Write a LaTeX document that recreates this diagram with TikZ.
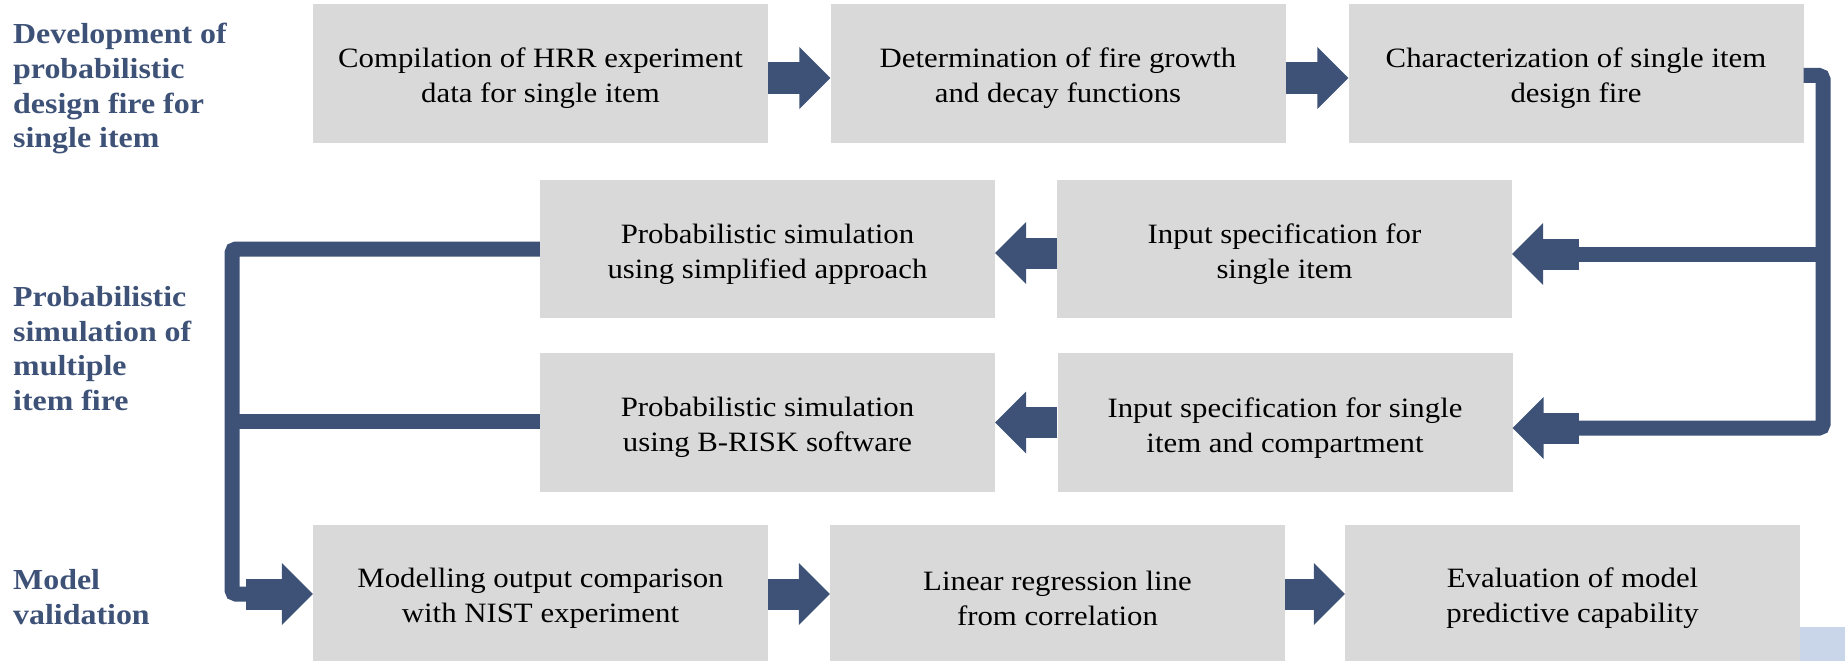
\documentclass[tikz,border=0pt]{standalone}
\usepackage{fontspec}
\setmainfont{Liberation Serif}[FakeStretch=1.1]
\usetikzlibrary{arrows.meta}
\definecolor{navy}{HTML}{3E5278}
\definecolor{boxgray}{HTML}{D9D9D9}
\definecolor{paleblue}{HTML}{C9D5E8}
% extra room above the first line of a box text
\newcommand\boxstrut{\rule{0pt}{30pt}}

\begin{document}
\begin{tikzpicture}[x=1pt,y=-1pt,
  stage/.style={fill=boxgray, minimum width=455pt, minimum height=139pt,
    inner sep=0pt, align=center, text=black,
    font=\fontsize{28}{35}\selectfont},
  heading/.style={anchor=north west, inner sep=0pt, align=left, text=navy,
    font=\fontsize{29}{34.7}\selectfont\bfseries},
  flow/.style={draw=navy, line width=31pt,
    -{Triangle[length=31pt,width=62pt,line width=0pt]},
    postaction={draw=navy, line width=31pt, -, shorten >=20pt}},
  link/.style={draw=navy, line width=15pt, rounded corners=4pt}
]
\useasboundingbox (0,0) rectangle (1845,661);
\fill[white] (0,0) rectangle (1845,661);

% stage headings
\node[heading] (h1) at (13,23) {Development of\\probabilistic\\design fire for\\single item};
\node[heading] (h2) at (13,286) {Probabilistic\\simulation of\\multiple\\item fire};
\node[heading] (h3) at (13,569) {Model\\validation};

% process boxes
\node[stage] (A1) at (540.5,73.5) {\boxstrut Compilation of HRR experiment\\data for single item};
\node[stage] (A2) at (1058,73.5) {\boxstrut Determination of fire growth\\and decay functions};
\node[stage] (A3) at (1576,73.5) {\boxstrut Characterization of single item\\design fire};
\node[stage, minimum height=138pt] (B1) at (767.5,249) {\boxstrut Probabilistic simulation\\using simplified approach};
\node[stage, minimum height=138pt] (B2) at (1284.5,249) {\boxstrut Input specification for\\single item};
\node[stage] (C1) at (767.5,422.5) {\boxstrut Probabilistic simulation\\using B-RISK software};
\node[stage] (C2) at (1285,422.5) {\boxstrut Input specification for single\\item and compartment};
\node[stage, minimum height=136pt] (D1) at (540.5,593) {\boxstrut Modelling output comparison\\with NIST experiment};
\node[stage, minimum height=136pt] (D2) at (1057.5,593) {\boxstrut Linear regression line\\from correlation};
\node[stage, minimum height=136pt] (D3) at (1572.5,593) {\boxstrut Evaluation of model\\predictive capability};

\fill[paleblue] (1800,627) rectangle (1845,661);

% junction points of the connector bars
\coordinate (rx) at (1823,0);
\coordinate (lx) at (232,0);
\coordinate (r2) at (1579,254);
\coordinate (r3) at (1579,428);
\coordinate (l4) at (246,594);
\coordinate (a3) at ([yshift=-2pt]A3.east);
\coordinate (c1) at ([yshift=1.5pt]C1.west);

% connector bars
\draw[link] (a3) -| (r3 -| rx) -- (r3);
\draw[link] (r2 -| rx) -- (r2);
\draw[link] (B1.west) -| (l4 -| lx) -- (l4);
\draw[link] (c1) -- (c1 -| lx);

% block arrows
\draw[flow] ([yshift=-4.5pt]A1.east) -- ([yshift=-4.5pt]A2.west);
\draw[flow] ([yshift=-4.5pt]A2.east) -- ([yshift=-4.5pt]A3.west);
\draw[flow] (r2) -- (r2 -| B2.east);
\draw[flow] ([yshift=-4pt]B2.west) -- ([yshift=-4pt]B1.east);
\draw[flow] (r3) -- (r3 -| C2.east);
\draw[flow] (C2.west) -- (C1.east);
\draw[flow] (l4) -- (l4 -| D1.west);
\draw[flow] ([yshift=-1pt]D1.east) -- ([yshift=-1pt]D2.west);
\draw[flow] ([yshift=-1pt]D2.east) -- ([yshift=-1pt]D3.west);
\end{tikzpicture}
\end{document}
